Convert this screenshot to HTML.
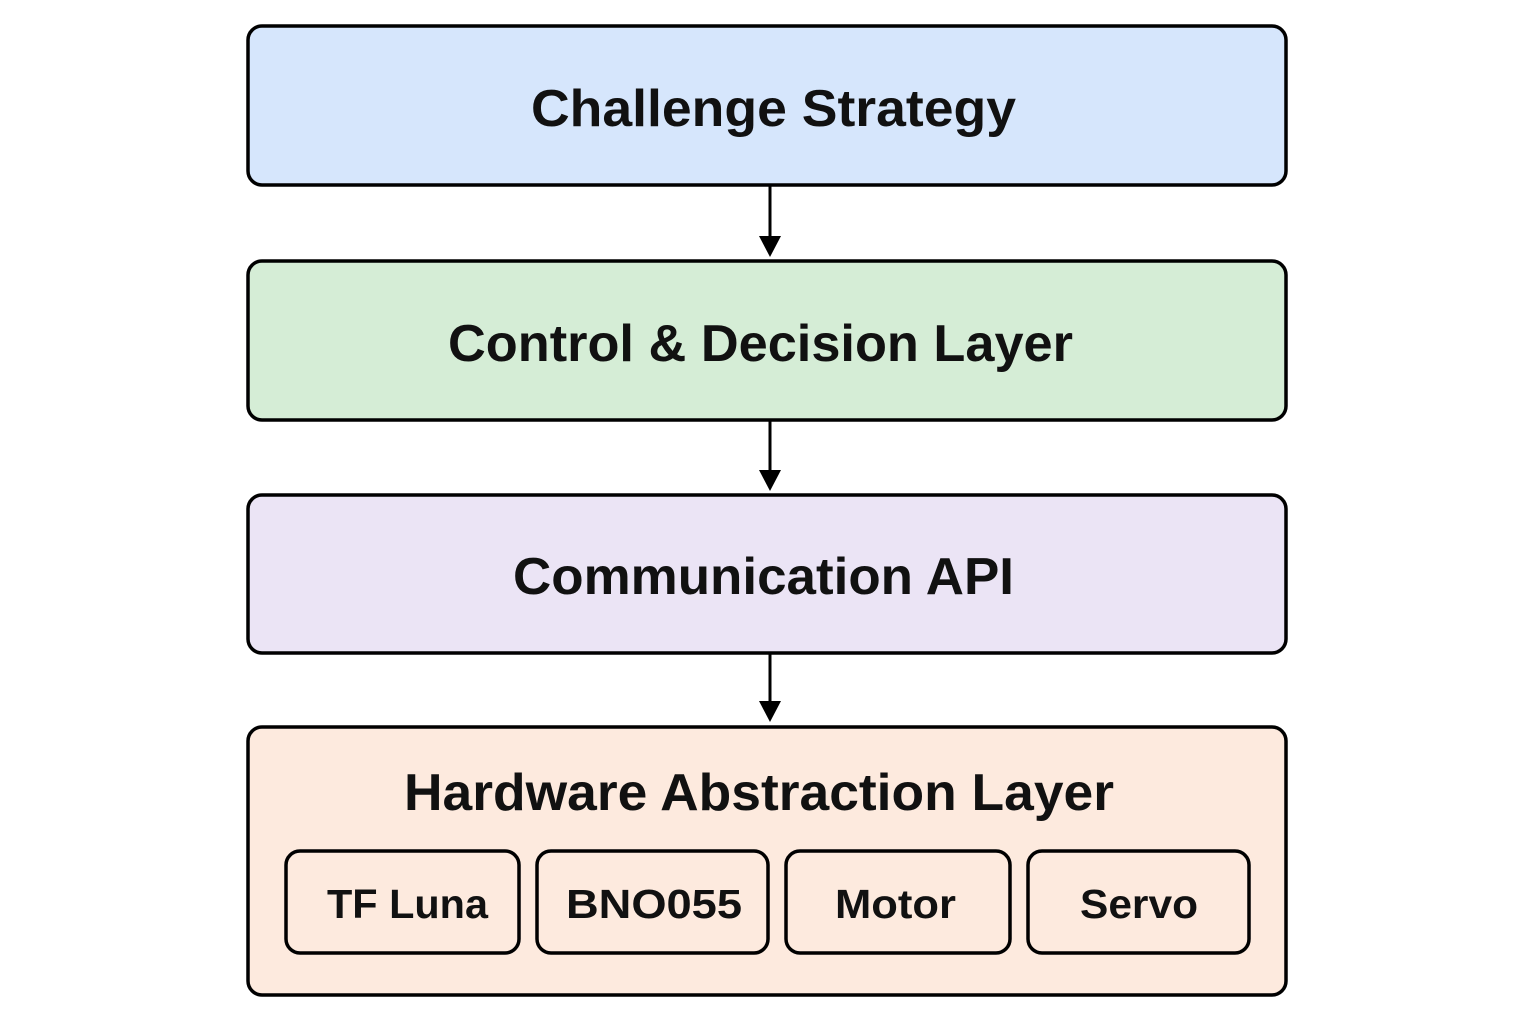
<!DOCTYPE html>
<html><head><style>body{margin:0;background:#fff}</style></head><body>
<svg width="1536" height="1024" xmlns="http://www.w3.org/2000/svg" font-family="Liberation Sans, sans-serif" font-weight="bold" text-anchor="middle">
<g stroke="#000" stroke-width="3.5">
<rect x="248" y="26" width="1038" height="159" rx="14" fill="#d6e6fc"/>
<rect x="248" y="261" width="1038" height="159" rx="14" fill="#d5edd6"/>
<rect x="248" y="495" width="1038" height="158" rx="14" fill="#ebe4f5"/>
<rect x="248" y="727" width="1038" height="268" rx="14" fill="#fdeade"/>
<rect x="286" y="851" width="233" height="102" rx="14" fill="none"/>
<rect x="537" y="851" width="231" height="102" rx="14" fill="none"/>
<rect x="786" y="851" width="224" height="102" rx="14" fill="none"/>
<rect x="1028" y="851" width="221" height="102" rx="14" fill="none"/>
<line x1="770" y1="186" x2="770" y2="240" stroke-width="3"/>
<line x1="770" y1="421" x2="770" y2="474" stroke-width="3"/>
<line x1="770" y1="654" x2="770" y2="705" stroke-width="3"/>
</g>
<g fill="#000">
<path d="M759,236 L781,236 L770,257z"/>
<path d="M759,470 L781,470 L770,491z"/>
<path d="M759,701 L781,701 L770,722z"/>
</g>
<g font-size="52" fill="#111" lengthAdjust="spacingAndGlyphs">
<text x="773.5" y="126" textLength="485" lengthAdjust="spacingAndGlyphs">Challenge Strategy</text>
<text x="760.5" y="361" textLength="625" lengthAdjust="spacingAndGlyphs">Control &amp; Decision Layer</text>
<text x="763.5" y="594" textLength="501" lengthAdjust="spacingAndGlyphs">Communication API</text>
<text x="759" y="810" textLength="710" lengthAdjust="spacingAndGlyphs">Hardware Abstraction Layer</text>
</g>
<g font-size="41" fill="#111">
<text x="407.5" y="918" textLength="161" lengthAdjust="spacingAndGlyphs">TF Luna</text>
<text x="654" y="918" textLength="176" lengthAdjust="spacingAndGlyphs">BNO055</text>
<text x="895.5" y="918" textLength="121" lengthAdjust="spacingAndGlyphs">Motor</text>
<text x="1139" y="918" textLength="118" lengthAdjust="spacingAndGlyphs">Servo</text>
</g>
</svg>
</body></html>
